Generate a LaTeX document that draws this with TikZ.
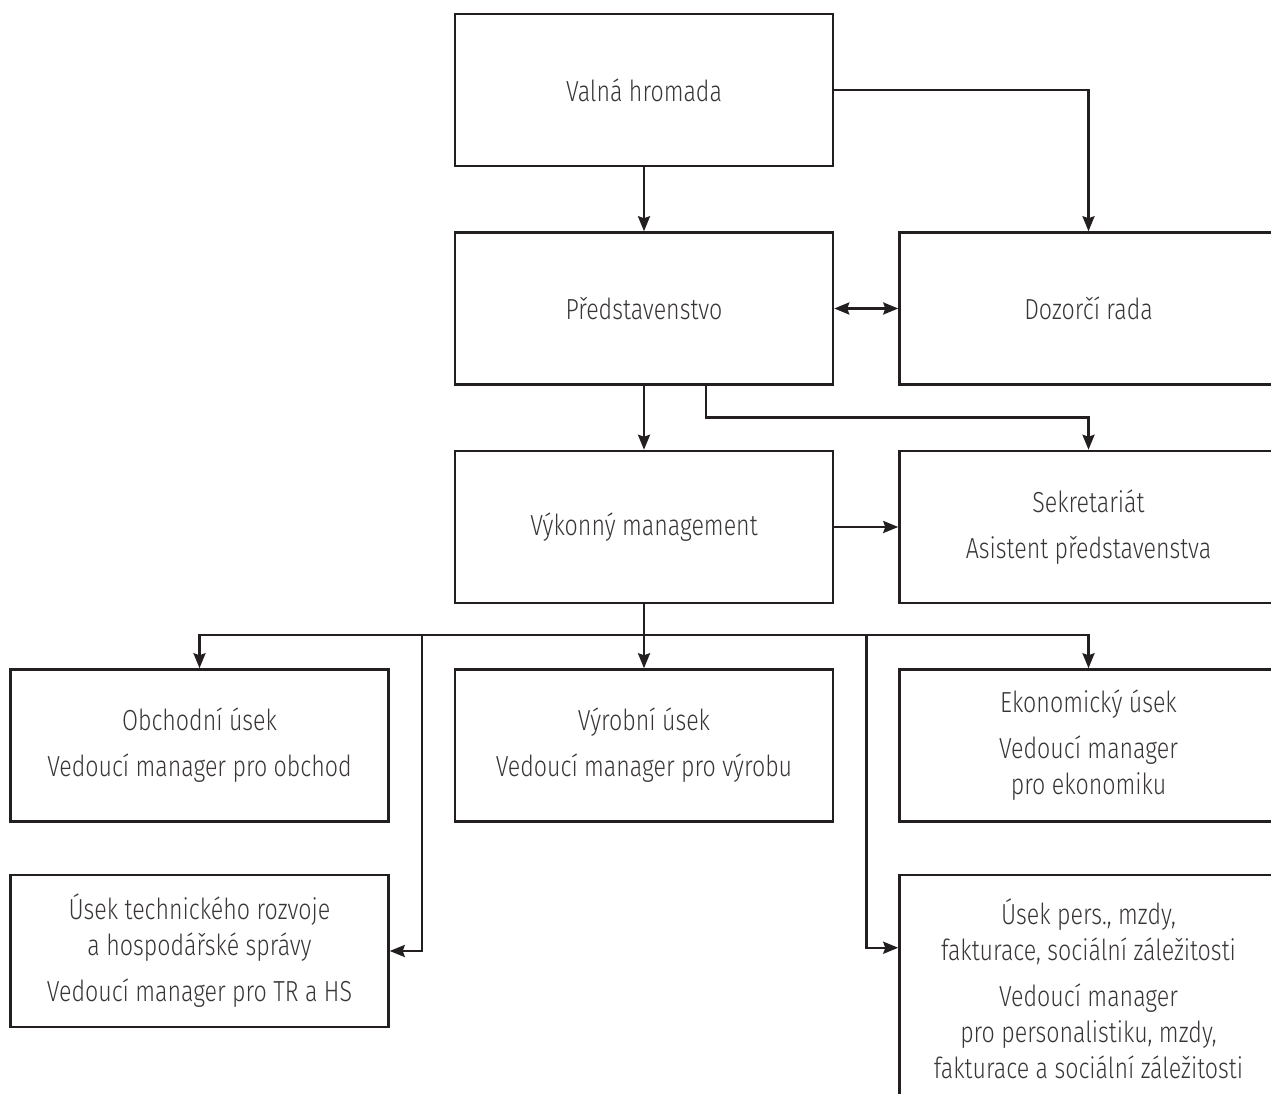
\documentclass[tikz,border=0pt]{standalone}
\usepackage{fontspec}
\setmainfont{Fira Sans Light}[FakeStretch=0.8]
\usetikzlibrary{arrows.meta,positioning,calc}
\definecolor{inkblack}{HTML}{231F20}
\tikzset{
    %Define standard arrow tip
    >={Stealth[length=15pt,width=12pt,inset=2pt]},
    %Define style for boxes
    unit/.style={
           rectangle,
           draw=inkblack, line width=2.5pt,
           minimum width=378pt,
           minimum height=152pt,
           inner sep=0pt,
           align=center,
           text=inkblack!90,
           font=\fontsize{29pt}{36pt}\selectfont},
    tallunit/.style={
           unit,
           minimum height=228pt},
    % Define arrow style
    link/.style={
           ->,
           draw=inkblack,
           line width=2.5pt}
}
\begin{document}
\begin{tikzpicture}[x=1pt,y=1pt,node distance=64pt and 64pt]
\useasboundingbox (0,0) rectangle (1271,1093);
\clip (0,0) rectangle (1271,1093);
\node[unit] (vh) at (644,1003) {Valná hromada};
\node[unit, below=of vh] (pr) {Představenstvo};
\node[unit, right=of pr] (dr) {Dozorčí rada};
\node[unit, below=of pr] (vm) {Výkonný management};
\node[unit, right=of vm] (sk) {Sekretariát\\[10pt]Asistent představenstva};
\node[unit, below=of vm] (vu) {Výrobní úsek\\[10pt]Vedoucí manager pro výrobu};
\node[unit, left=of vu] (ou) {Obchodní úsek\\[10pt]Vedoucí manager pro obchod};
\node[unit, right=of vu] (eu) {Ekonomický úsek\\[10pt]Vedoucí manager\\pro ekonomiku};
\node[unit, below=51pt of ou] (tr) {Úsek technického rozvoje\\a hospodářské správy\\[10pt]Vedoucí manager pro TR a HS};
\node[tallunit, below=51pt of eu] (pe) {Úsek pers., mzdy,\\fakturace, sociální záležitosti\\[10pt]Vedoucí manager\\pro personalistiku, mzdy,\\fakturace a sociální záležitosti};
% top levels
\draw[link] (vh) -- (pr);
\draw[link] (vh.east) -| (dr.north);
\draw[link, <->] (pr) -- (dr);
\draw[link] (pr) -- (vm);
\draw[link] ([xshift=62pt]pr.south) -- ++(0,-32) -| (sk.north);
\draw[link] (vm) -- (sk);
% departments
\coordinate[below=31pt of vm] (bus);
\coordinate (lb) at ($(ou.east)!0.5!(vu.west)$);
\coordinate (rb) at ($(vu.east)!0.5!(eu.west)$);
\draw[link] (vm) -- (vu);
\draw[link] (bus) -| (ou.north);
\draw[link] (bus) -| (eu.north);
\draw[link] (lb |- bus) |- (tr.east);
\draw[link] (rb |- bus) |- ([yshift=-74pt]pe.north west);
\end{tikzpicture}
\end{document}
